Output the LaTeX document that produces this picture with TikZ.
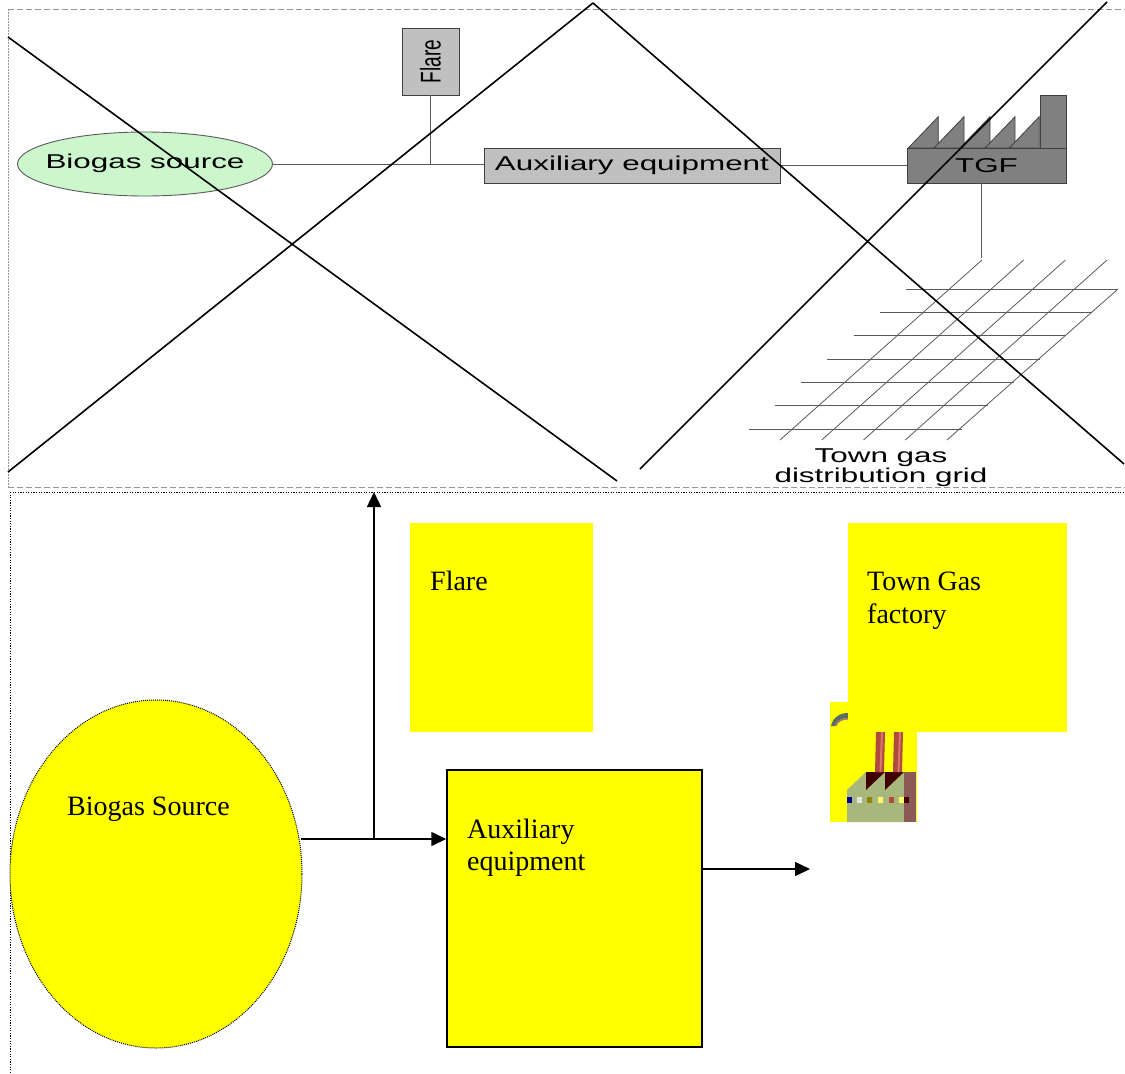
\documentclass[tikz,border=0pt]{standalone}
\usepackage{fontspec}
\setmainfont{Liberation Serif}
\newfontfamily\topfont[FakeStretch=1.57]{Liberation Sans}
\newfontfamily\plainsans{Liberation Sans}
\usetikzlibrary{arrows.meta,shapes.geometric}
\definecolor{yel}{RGB}{255,255,0}
\definecolor{lgreen}{RGB}{204,247,204}
\definecolor{gline}{RGB}{90,90,90}
\definecolor{gbox}{RGB}{192,192,192}
\definecolor{gdark}{RGB}{128,128,128}
\definecolor{gedge}{RGB}{64,64,64}
\definecolor{frameg}{RGB}{150,150,150}
\definecolor{chim}{RGB}{176,74,64}
\definecolor{chimhi}{RGB}{214,120,110}
\definecolor{bldg}{RGB}{168,184,124}
\definecolor{maroon}{RGB}{64,0,0}
\definecolor{side}{RGB}{140,90,85}
\definecolor{dome}{RGB}{90,110,96}
\begin{document}
\begin{tikzpicture}[x=1pt,y=-1pt,
  thinline/.style={draw=gline,line width=0.9pt},
  gridline/.style={draw=gline,line width=0.8pt},
  xline/.style={draw=black,line width=1.6pt},
  flow/.style={draw=black,line width=1.5pt,-{Triangle[length=15pt,width=14pt]}},
  ybox/.style={rectangle,fill=yel,draw=none,inner sep=0pt},
  lab/.style={anchor=base west,inner sep=0pt,font=\fontsize{28}{32}\selectfont},
  toplab/.style={inner sep=0pt,font=\topfont\fontsize{20}{24}\selectfont},
  graybox/.style={rectangle,fill=gbox,draw=gedge,line width=0.9pt,inner sep=0pt}]
\useasboundingbox (0,0) rectangle (1125,1074);
\fill[white] (0,0) rectangle (1125,1074);

% ---------- top picture frame ----------
\draw[frameg,line width=0.9pt,dash pattern=on 6pt off 3pt] (8,9) -- (1125,9);
\draw[frameg,line width=0.9pt,dash pattern=on 6pt off 3pt] (8,487) -- (1125,487);
\draw[frameg,line width=0.9pt,dash pattern=on 1.5pt off 1.5pt] (8,9) -- (8,487);

% ---------- top schematic ----------
\node[ellipse,fill=lgreen,draw=gline,line width=0.9pt,minimum width=255pt,minimum height=64pt,inner sep=0pt] (bs) at (145,164) {};
\node[toplab] (bstxt) at (145,163) {Biogas source};
\node[graybox,minimum width=57pt,minimum height=67pt] (fl) at (430.5,61.5) {\scalebox{1.5}[1]{\rotatebox{90}{\plainsans\fontsize{19}{19}\selectfont Flare}}};
\node[graybox,minimum width=296pt,minimum height=35pt,toplab] (ax) at (632,165.5) {Auxiliary equipment};
% TGF factory
\foreach \a in {938.3,964,990,1015,1039.3}{
  \filldraw[fill=gdark,draw=gedge,line width=0.8pt] (\a-30,148) -- (\a,116.7) -- (\a,148) -- cycle;
}
\filldraw[fill=gdark,draw=gedge,line width=0.8pt] (1040,95) rectangle (1066,148);
\node[rectangle,fill=gdark,draw=gedge,line width=0.8pt,minimum width=159pt,minimum height=35pt,inner sep=0pt,toplab] (tgf) at (986.5,165.5) {TGF};
\draw[thinline] (bs.east) -- (ax.west |- bs.east);
\draw[thinline] (fl.south) -- (fl.south |- bs.east);
\draw[thinline] (ax.east) -- (tgf.west);
\coordinate (gridtop) at (981,258);
\draw[thinline] (gridtop |- tgf.south) -- (gridtop);
% grid
\foreach \i in {0,...,6}{
  \draw[gridline] ({905.7-26.1*\i},{289+23.33*\i}) -- ({1118-26*\i},{289+23.33*\i});
}
\foreach \k in {0,...,3}{
  \draw[gridline] ({780+41.75*\k},440) -- ({982+41.7*\k},260);
}
\draw[gridline] (947,440) -- (1118,289);
\node[toplab,anchor=base] (tg1) at (881,462) {Town gas};
\node[toplab,anchor=base] (tg2) at (881,482) {distribution grid};

% ---------- crossing lines ----------
\draw[xline] (8,37) -- (617,481);
\draw[xline] (8,472) -- (593,3);
\draw[xline] (593,3) -- (1124,464);
\draw[xline] (640,469) -- (1107,2);

% ---------- lower frame ----------
\draw[black,line width=0.9pt,dash pattern=on 1.2pt off 1.4pt] (10,492) -- (1125,492);
\draw[black,line width=0.9pt,dash pattern=on 1.2pt off 1.4pt] (10,492) -- (10,1074);

% ---------- lower diagram ----------
\node[ellipse,fill=yel,draw=black,line width=1pt,dash pattern=on 1pt off 1pt,minimum width=292pt,minimum height=348pt,inner sep=0pt] (bsrc) at (156,874) {};
\node[lab] (bsrctxt) at (67,815) {Biogas Source};

\node[ybox,minimum width=183pt,minimum height=209pt] (flare2) at (501.5,627.5) {};
\node[lab] (flaretxt) at (430,590) {Flare};

\node[rectangle,fill=yel,draw=black,line width=1.5pt,minimum width=255pt,minimum height=277pt,inner sep=0pt] (aux2) at (574.5,908.5) {};
\node[lab] (auxtA) at (467,838) {Auxiliary};
\node[lab] (auxtB) at (467,870) {equipment};

% factory icon
\fill[yel] (830,702) rectangle (917,822);
\fill[dome] (831,726) .. controls (833,717) and (840,713) .. (848,713) -- (848,718) .. controls (841,718) and (836,721) .. (834.5,726) -- cycle;
\fill[chimhi!60!dome] (834.5,726) .. controls (836,721) and (841,718) .. (848,718) -- (848,719.5) .. controls (842,719.5) and (837.5,722) .. (836.5,726) -- cycle;
\fill[bldg] (847,822) -- (847,790) -- (866,772) -- (866,790) -- (885,772) -- (885,790) -- (904,772) -- (904,822) -- cycle;
\fill[maroon] (866,772) -- (885,772) -- (866,790) -- cycle;
\fill[maroon] (885,772) -- (904,772) -- (885,790) -- cycle;
\fill[chim] (876,732) -- (885,732) -- (884,772) -- (875,772) -- cycle;
\fill[chimhi] (881,732) -- (883,732) -- (881.5,772) -- (879.5,772) -- cycle;
\fill[chim] (894,732) -- (903,732) -- (902,772) -- (893,772) -- cycle;
\fill[chimhi] (899,732) -- (901,732) -- (899.5,772) -- (897.5,772) -- cycle;
\fill[side] (904,772) rectangle (916,822);
\fill[blue!60!black] (847,797) rectangle (852,803);
\fill[gray!20] (857,797) rectangle (862,803);
\fill[olive] (867,797) rectangle (872,803);
\fill[yellow!60] (878,797) rectangle (883,803);
\fill[chim] (889,797) rectangle (894,803);
\fill[yellow!60] (899,797) rectangle (904,803);
\fill[maroon] (904,797) rectangle (909,803);

\node[ybox,minimum width=219pt,minimum height=209pt] (tgf2) at (957.5,627.5) {};
\node[lab] (tgftA) at (867,590) {Town Gas};
\node[lab] (tgftB) at (867,623) {factory};

% connectors
\coordinate (jb) at (374,839);
\coordinate (frametop) at (374,492);
\coordinate (out) at (810,869);
\draw[line width=1.5pt] ([xshift=-2pt]bsrc.east |- jb) -- (jb);
\draw[flow] (jb) -- (jb -| aux2.west);
\draw[flow] (jb) -- (frametop);
\draw[flow] (aux2.east |- out) -- (out);
\end{tikzpicture}
\end{document}
